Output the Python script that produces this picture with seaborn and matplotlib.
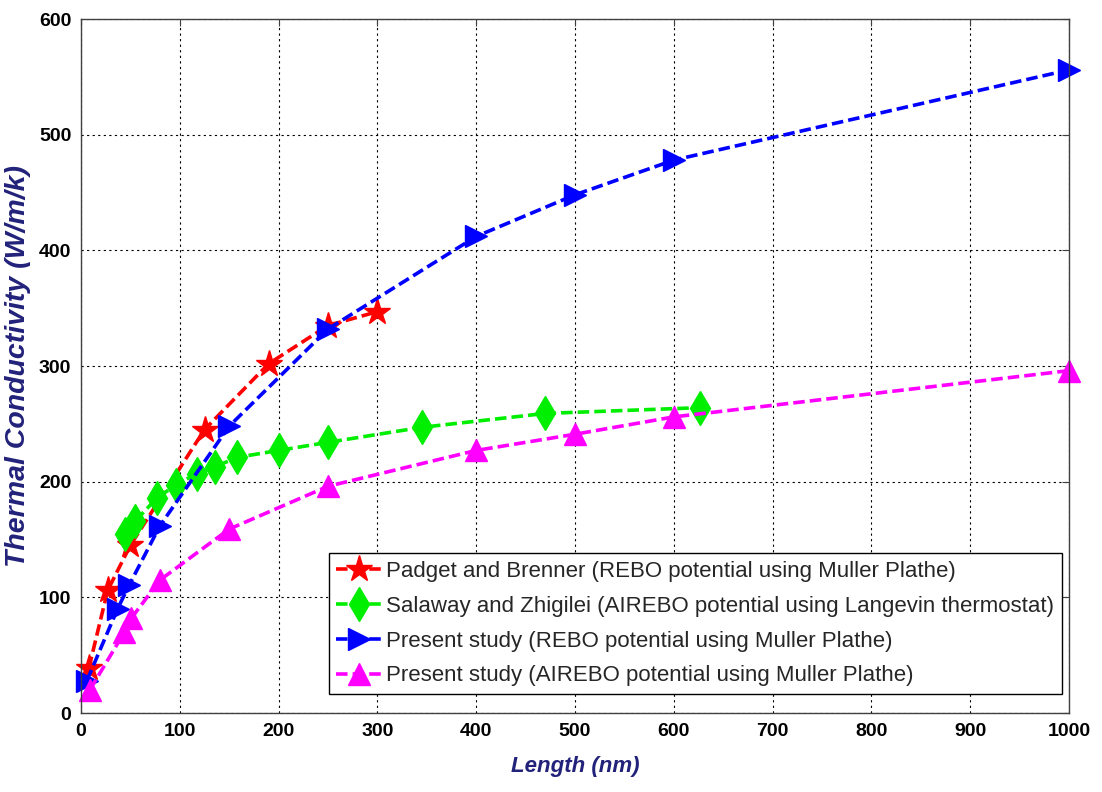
import matplotlib
matplotlib.use("Agg")
import matplotlib.pyplot as plt
import seaborn as sns
import numpy as np
import pandas as pd

# ---- data ----
red_x = [8, 27, 50, 125, 190, 250, 300]
red_y = [39, 106, 145, 245, 302, 335, 347]

green_x = [45, 55, 77, 96, 117, 136, 158, 200, 250, 345, 470, 627]
green_y = [155, 166, 186, 197, 207, 213, 221, 227, 234, 247, 259, 264]

blue_x = [6, 37, 49, 80, 150, 250, 400, 500, 600, 1000]
blue_y = [28, 90, 111, 162, 248, 332, 412, 448, 478, 556]

mag_x = [9, 44, 51, 80, 150, 250, 400, 500, 600, 1000]
mag_y = [20, 70, 82, 115, 159, 196, 227, 241, 256, 296]

labels = [
    "Padget and Brenner (REBO potential using Muller Plathe)",
    "Salaway and Zhigilei (AIREBO potential using Langevin thermostat)",
    "Present study (REBO potential using Muller Plathe)",
    "Present study (AIREBO potential using Muller Plathe)",
]
x_ticks = list(range(0, 1001, 100))
y_ticks = list(range(0, 601, 100))

sns.set_theme(style="white")
plt.rcParams["font.family"] = ["Liberation Sans", "DejaVu Sans"]

fig = plt.figure(figsize=(11.02, 7.92), dpi=100)
ax = fig.add_axes([81 / 1102, 1 - 713 / 792, (1069 - 81) / 1102, (713 - 19) / 792])

series = [
    (red_x, red_y, "#ff0000", "*", 20),
    (green_x, green_y, "#00ee00", "d", 17),
    (blue_x, blue_y, "#0000ff", ">", 15.5),
    (mag_x, mag_y, "#ff00ff", "^", 15.5),
]
for (xs, ys, col, mk, ms), lab in zip(series, labels):
    df = pd.DataFrame({"x": xs, "y": ys})
    sns.lineplot(data=df, x="x", y="y", ax=ax, color=col, marker=mk,
                 markersize=ms, markeredgecolor=col, markerfacecolor=col,
                 markeredgewidth=1, linewidth=2.6,
                 linestyle=(0, (3.2, 1.4)), label=lab, clip_on=False,
                 estimator=None)

ax.set_xlim(0, 1000)
ax.set_ylim(0, 600)
ax.set_xticks(x_ticks)
ax.set_yticks(y_ticks)
ax.grid(True, color="black", linestyle=(0, (2, 3)), linewidth=0.8)
for s in ax.spines.values():
    s.set_visible(True)
    s.set_color("#404040")
    s.set_linewidth(1.0)
ax.tick_params(direction="in", length=5, width=0.8, color="#404040",
               top=True, right=True, labelsize=14, pad=7)
for t in ax.get_xticklabels() + ax.get_yticklabels():
    t.set_fontweight("bold")
    t.set_color("black")

ax.set_xlabel("Length (nm)", fontsize=16, fontweight="bold", style="italic",
              color="#22227a", labelpad=12)
ax.set_ylabel("Thermal Conductivity (W/m/k)", fontsize=20.5, fontweight="bold",
              style="italic", color="#22227a", labelpad=6)

leg = ax.legend(loc="lower right", bbox_to_anchor=(0.993, 0.027),
                borderaxespad=0, fontsize=16, frameon=True, fancybox=False,
                framealpha=1, edgecolor="black", handlelength=2.0,
                handletextpad=0.25, labelspacing=0.62, borderpad=0.35)
leg.get_frame().set_linewidth(1.0)

fig.savefig("out.png", dpi=100, facecolor="white")
